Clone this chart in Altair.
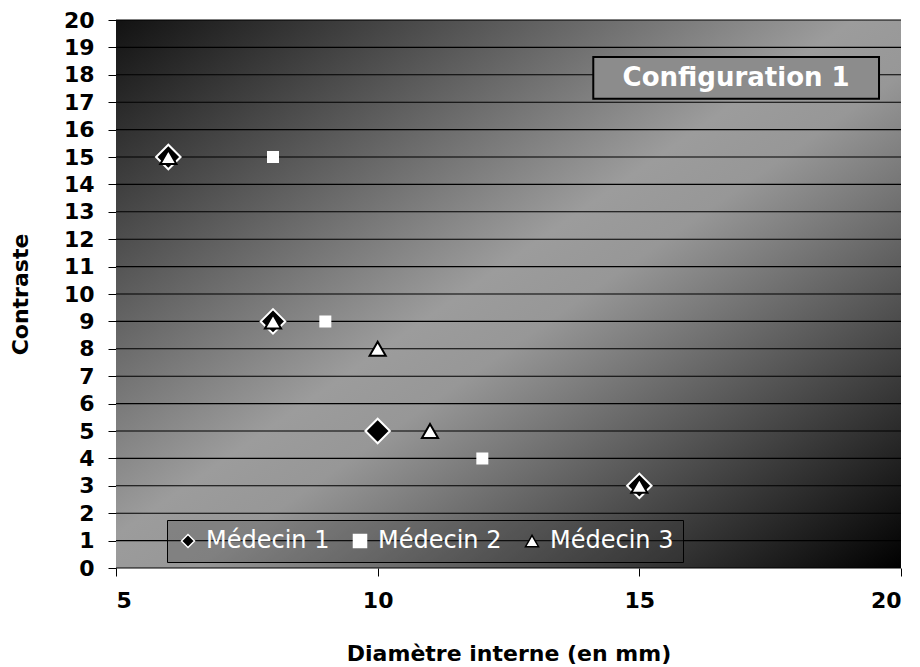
import altair as alt
import pandas as pd

# ---- data ----
names = ["Médecin 1", "Médecin 2", "Médecin 3"]
m1_x = [6, 8, 10, 15]
m1_y = [15, 9, 5, 3]
m2_x = [8, 9, 12]
m2_y = [15, 9, 4]
m3_x = [6, 8, 10, 11, 15]
m3_y = [15, 9, 8, 5, 3]
x_ticks = [5, 10, 15, 20]
y_ticks = list(range(0, 21))
note_text = "Configuration 1"

rows = []
for name, xs, ys in zip(names, [m1_x, m2_x, m3_x], [m1_y, m2_y, m3_y]):
    for a, b in zip(xs, ys):
        rows.append({"serie": name, "d": a, "c": b})
df = pd.DataFrame(rows)

FONT = "DejaVu Sans"
W, H = 785, 548

x_scale = alt.Scale(domain=[5, 20], nice=False, zero=False)
y_scale = alt.Scale(domain=[0, 20], nice=False)

x_axis = alt.Axis(values=x_ticks, grid=False, domain=False, tickSize=8, tickColor="black",
                  tickWidth=1, labelFont=FONT, labelFontSize=22, labelFontWeight="bold",
                  labelColor="black", labelPadding=14, format="d",
                  titleFont=FONT, titleFontSize=22, titleFontWeight="bold", titleColor="black",
                  titlePadding=32)
y_axis = alt.Axis(values=y_ticks, grid=False, domain=True, domainColor="#303030", tickSize=8,
                  tickColor="black", labelFont=FONT, labelFontSize=22, labelFontWeight="bold",
                  labelColor="black", labelPadding=14, format="d",
                  titleFont=FONT, titleFontSize=22, titleFontWeight="bold", titleColor="black",
                  titlePadding=31)

XT = "Diamètre interne (en mm)"
YT = "Contraste"

def X(field):
    return alt.X(field, scale=x_scale, axis=x_axis, title=XT)

def Y(field):
    return alt.Y(field, scale=y_scale, axis=y_axis, title=YT)

grad = alt.LinearGradient(
    gradient="linear", x1=0, y1=0, x2=1, y2=1,
    stops=[alt.GradientStop(offset=0, color="#121212"),
           alt.GradientStop(offset=0.47, color="#9c9c9c"),
           alt.GradientStop(offset=0.55, color="#979797"),
           alt.GradientStop(offset=1, color="#000000")])

bg = alt.Chart(pd.DataFrame({"x0": [5], "x1": [20], "y0": [0], "y1": [20]})).mark_rect(
    color=grad).encode(x=X("x0:Q"), x2="x1", y=Y("y0:Q"), y2="y1")

grid = alt.Chart(pd.DataFrame({"g": y_ticks})).mark_rule(color="black", strokeWidth=1.1).encode(
    y=Y("g:Q"))

note_df = pd.DataFrame({"x0": [14.12], "x1": [19.58], "y0": [17.13], "y1": [18.65],
                        "xm": [16.85], "ym": [17.89], "t": [note_text]})
note_box = alt.Chart(note_df).mark_rect(fill="#8c8c8c", stroke="black", strokeWidth=2).encode(
    x=X("x0:Q"), x2="x1", y=Y("y0:Q"), y2="y1")
note_txt = alt.Chart(note_df).mark_text(font=FONT, fontSize=26, fontWeight="bold",
                                        color="white", baseline="middle", align="center").encode(
    x=X("xm:Q"), y=Y("ym:Q"), text="t:N")

leg = alt.Legend(orient="none", legendX=51, legendY=500, direction="horizontal",
                 fillColor="rgba(60,60,60,0.25)", strokeColor="black", padding=9,
                 labelColor="white", labelFont=FONT, labelFontSize=24, labelOffset=6,
                 labelLimit=300, columnPadding=18, symbolSize=170, symbolStrokeWidth=1.5)

shape_enc = alt.Shape("serie:N", scale=alt.Scale(domain=names, range=["diamond", "square", "triangle-up"]),
                      legend=leg, title="")
fill_enc = alt.Fill("serie:N", scale=alt.Scale(domain=names, range=["black", "white", "white"]),
                    legend=leg, title="")
stroke_enc = alt.Stroke("serie:N", scale=alt.Scale(domain=names, range=["white", "white", "black"]),
                        legend=leg, title="")

marker_sizes = {"Médecin 1": 600, "Médecin 2": 100, "Médecin 3": 260}

point_layers = []
for name in names:
    point_layers.append(
        alt.Chart(df).transform_filter(alt.datum.serie == name)
        .mark_point(filled=True, opacity=1, strokeWidth=2, size=marker_sizes[name])
        .encode(x=X("d:Q"), y=Y("c:Q"), shape=shape_enc, fill=fill_enc, stroke=stroke_enc)
    )

chart = alt.layer(bg, grid, note_box, note_txt, *point_layers).properties(
    width=W, height=H,
    padding={"left": 108, "top": 12, "right": 11, "bottom": 97},
    autosize=alt.AutoSizeParams(type="none"),
).configure_view(stroke=None).configure_legend(
    labelFontSize=24, labelFont=FONT, labelColor="white", labelLimit=300,
    symbolSize=170, symbolStrokeWidth=1.5)

chart.save("out.html", embed_options={"renderer": "svg", "actions": False})
